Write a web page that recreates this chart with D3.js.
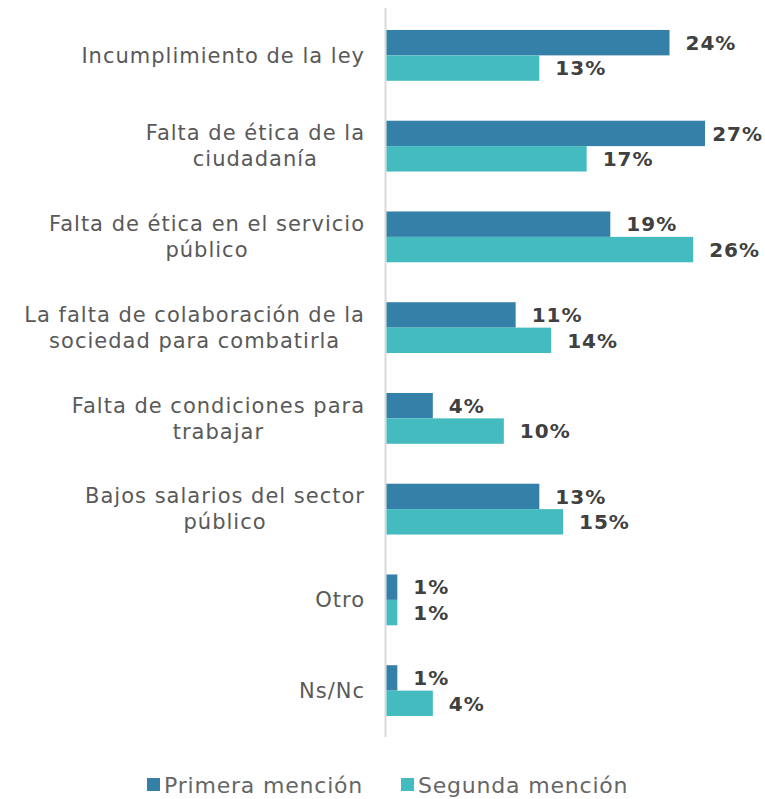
<!DOCTYPE html>
<meta charset="utf-8">
<body style="margin:0;background:#fff">
<div id="chart"></div>
<script src="https://d3js.org/d3.v7.min.js"></script>
<script>
const categories = [
  ["Incumplimiento de la ley"],
  ["Falta de ética de la", "ciudadanía"],
  ["Falta de ética en el servicio", "público"],
  ["La falta de colaboración de la", "sociedad para combatirla"],
  ["Falta de condiciones para", "trabajar"],
  ["Bajos salarios del sector", "público"],
  ["Otro"],
  ["Ns/Nc"]
];
const primera = [24, 27, 19, 11, 4, 13, 1, 1];
const segunda = [13, 17, 26, 14, 10, 15, 1, 4];
const seriesNames = ["Primera mención", "Segunda mención"];
const colors = ["#3580a8", "#44bbbf"];

const width = 765, height = 799;
const font = "'DejaVu Sans', sans-serif";

const svg = d3.select("#chart").append("svg")
    .attr("width", width)
    .attr("height", height);

const x = d3.scaleLinear().domain([0, 27]).range([385.5, 705]);
const y = d3.scaleBand().domain(d3.range(categories.length)).range([10, 736]).paddingInner(0.44).paddingOuter(0.22);
const sub = d3.scaleBand().domain([0, 1]).range([0, y.bandwidth()]);

// axis line
svg.append("line")
    .attr("x1", x(0)).attr("x2", x(0))
    .attr("y1", 8).attr("y2", 737)
    .attr("stroke", "#d9d9d9").attr("stroke-width", 2);

const data = [primera, segunda];

data.forEach((vals, s) => {
  svg.append("g").selectAll("rect")
    .data(vals)
    .enter().append("rect")
      .attr("x", x(0) + 1)
      .attr("y", (d, i) => y(i) + sub(s))
      .attr("width", d => x(d) - x(0) - 1)
      .attr("height", sub.bandwidth())
      .attr("fill", colors[s]);

  svg.append("g").selectAll("text")
    .data(vals)
    .enter().append("text")
      .attr("y", (d, i) => y(i) + sub(s) + sub.bandwidth() / 2)
      .attr("dy", "0.36em")
      .attr("font-family", font)
      .attr("font-weight", "bold")
      .attr("font-size", 20)
      .attr("letter-spacing", 1)
      .attr("fill", "#404040")
      .text(d => d + "%")
      .attr("x", function(d) {
        const w = this.getComputedTextLength();
        return Math.min(x(d) + 16, width - w - 2);
      });
});

// category labels: block right-aligned, lines centred
const labelRight = 365, lineH = 26;
categories.forEach((lines, i) => {
  const cy = y(i) + y.bandwidth() / 2;
  const g = svg.append("g");
  const texts = lines.map((t, j) => g.append("text")
      .attr("y", cy + (j - (lines.length - 1) / 2) * lineH)
      .attr("dy", "0.35em")
      .attr("font-family", font)
      .attr("font-size", 21)
      .attr("letter-spacing", 1)
      .attr("fill", "#595959")
      .attr("text-anchor", "middle")
      .text(t));
  const w = d3.max(texts, t => t.node().getComputedTextLength());
  texts.forEach(t => t.attr("x", labelRight - w / 2));
});

// legend
const legendX = [147, 401];
seriesNames.forEach((name, s) => {
  svg.append("rect")
    .attr("x", legendX[s]).attr("y", 778)
    .attr("width", 13).attr("height", 13)
    .attr("fill", colors[s]);
  svg.append("text")
    .attr("x", legendX[s] + 17).attr("y", 785)
    .attr("dy", "0.35em")
    .attr("font-family", font)
    .attr("font-size", 22)
    .attr("letter-spacing", 0.8)
    .attr("fill", "#666666")
    .text(name);
});
</script>
</body>
